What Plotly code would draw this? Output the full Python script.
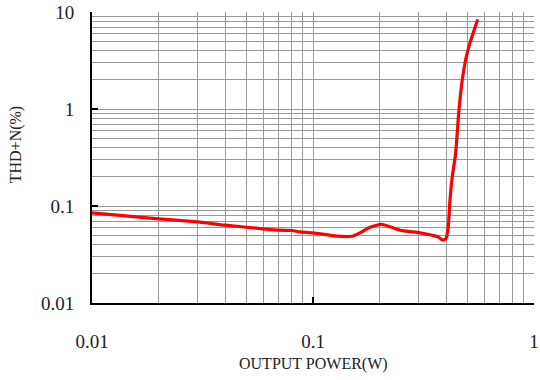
import plotly.graph_objects as go

# Data
power_w = [0.01, 0.02, 0.0308, 0.04, 0.0594, 0.0702, 0.0804, 0.0873, 0.1, 0.128,
           0.1497, 0.1632, 0.1811, 0.2046, 0.2476, 0.305, 0.3503, 0.3679, 0.3864,
           0.3997, 0.4095, 0.4169, 0.427, 0.4414, 0.4578, 0.4738, 0.4909, 0.5133, 0.5563]
thd_n_pct = [0.0851, 0.0738, 0.0681, 0.0634, 0.0582, 0.0563, 0.0559, 0.0542, 0.0529, 0.0488,
             0.0488, 0.0529, 0.0604, 0.0645, 0.0563, 0.0529, 0.0496, 0.0481, 0.0444,
             0.0462, 0.0619, 0.1167, 0.2029, 0.3396, 0.988, 2.014, 3.24, 4.81, 8.37]

x_ticks = [0.01, 0.1, 1]
x_ticktext = ["0.01", "0.1", "1"]
y_ticks = [0.01, 0.1, 1, 10]
y_ticktext = ["0.01", "0.1", "1", "10"]

x_minor = [m * d for d in (0.01, 0.1) for m in range(2, 10)] + [1]
y_minor = [m * d for d in (0.01, 0.1, 1) for m in range(2, 10)] + [10]

FONT = "Liberation Serif"

fig = go.Figure()
fig.add_trace(go.Scatter(
    x=power_w, y=thd_n_pct, mode="lines",
    line=dict(color="#ff0000", width=3.2, shape="spline", smoothing=0.5),
    showlegend=False, hoverinfo="skip"))

grid_color = "#999999"
fig.update_xaxes(
    type="log", range=[-2, 0], automargin=False,
    tickmode="array", tickvals=x_ticks, ticktext=x_ticktext,
    showgrid=True, gridcolor=grid_color, gridwidth=1,
    minor=dict(tickmode="array", tickvals=x_minor, showgrid=True,
               gridcolor=grid_color, gridwidth=1, ticks=""),
    showline=True, linecolor="black", linewidth=2,
    ticks="inside", ticklen=6, tickwidth=1.5, tickcolor="black",
    ticklabelstandoff=20,
    tickfont=dict(family=FONT, size=19, color="#222"),
    zeroline=False)
fig.update_yaxes(
    type="log", range=[-2, 1], automargin=False,
    tickmode="array", tickvals=y_ticks, ticktext=y_ticktext,
    showgrid=True, gridcolor=grid_color, gridwidth=1,
    minor=dict(tickmode="array", tickvals=y_minor, showgrid=True,
               gridcolor=grid_color, gridwidth=1, ticks=""),
    showline=True, linecolor="black", linewidth=2,
    ticks="inside", ticklen=6, tickwidth=1.5, tickcolor="black",
    ticklabelstandoff=12,
    tickfont=dict(family=FONT, size=19, color="#222"),
    zeroline=False)

fig.add_annotation(text="OUTPUT POWER(W)", xref="paper", yref="paper",
                   x=0.5, y=-0.211, xanchor="center", yanchor="middle",
                   showarrow=False, font=dict(family=FONT, size=16, color="#222"))
fig.add_annotation(text="THD+N(%)", xref="paper", yref="paper",
                   x=-0.170, y=0.545, xanchor="center", yanchor="middle",
                   textangle=-90, showarrow=False,
                   font=dict(family=FONT, size=16, color="#222"))

fig.update_layout(
    width=540, height=380,
    margin=dict(l=92, r=6, t=12, b=77, autoexpand=False),
    paper_bgcolor="white", plot_bgcolor="white")

fig.write_html("out.html")
